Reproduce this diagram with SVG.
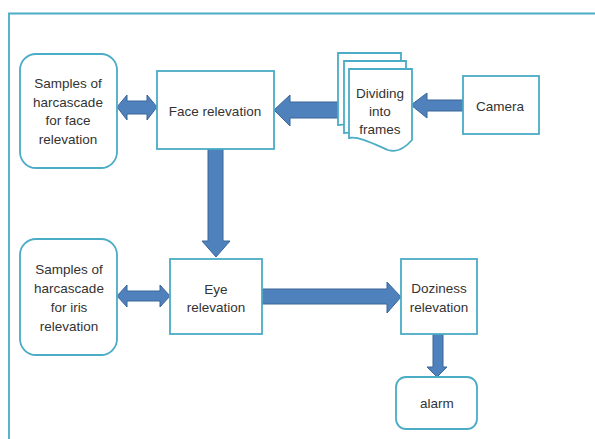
<svg xmlns="http://www.w3.org/2000/svg" width="595" height="439" viewBox="0 0 595 439">
<style>
.box{fill:#fff;stroke:#4BACC6;stroke-width:1.8}
.arr{fill:#4F81BD;stroke:#3A6596;stroke-width:1}
text{font-family:"Liberation Sans",Arial,sans-serif;font-size:13.5px;fill:#333;text-anchor:middle;dominant-baseline:central}
</style>
<rect width="595" height="439" fill="#fff"/>
<path d="M9,439 V13.5 H595" fill="none" stroke="#4BACC6" stroke-width="1.8"/>
<g id="connectors">
<path class="arr" d="M117,107 L127,95 V101 H147 V95 L157,107 L147,120 V114 H127 V120 Z"/>
<path class="arr" d="M274,110 L290,95 V102 H338 V118 H290 V126 Z"/>
<path class="arr" d="M411,105 L427,93 V100 H463 V111 H427 V118 Z"/>
<path class="arr" d="M208,149 H223 V241 H230 L216,257 L202,241 H208 Z"/>
<path class="arr" d="M117,296 L127,285 V291 H160 V285 L170,296 L160,307 V301 H127 V307 Z"/>
<path class="arr" d="M262,289 H387 V282 L401,297 L387,313 V304 H262 Z"/>
<path class="arr" d="M433,334 H443 V367 H447 L437,377 L427,367 H433 Z"/>
</g>
<g id="samples-face">
<rect class="box" x="20" y="54" width="97" height="114" rx="16"/>
<text x="68" y="83">Samples of</text>
<text x="68" y="102">harcascade</text>
<text x="68" y="120">for face</text>
<text x="68" y="139">relevation</text>
</g>
<g id="face">
<rect class="box" x="157" y="71" width="117" height="78"/>
<text x="215" y="111">Face relevation</text>
</g>
<g id="dividing">
<path class="box" d="M338,53 H401 V126 C396,128 392,128 388,127 C370,122 350,124 338,125 Z"/>
<path class="box" d="M344,61 H406 V134 C401,136 397,136 393,135 C375,130 356,132 344,133 Z"/>
<path class="box" d="M349,69 H412 V140 C405,148 397,153 388,150 C372,143 358,136 349,138 Z"/>
<text x="380" y="93">Dividing</text>
<text x="380" y="111">into</text>
<text x="380" y="129">frames</text>
</g>
<g id="camera">
<rect class="box" x="463" y="76" width="76" height="58"/>
<text x="500" y="106">Camera</text>
</g>
<g id="samples-iris">
<rect class="box" x="20" y="239" width="97" height="116" rx="16"/>
<text x="69" y="269">Samples of</text>
<text x="69" y="288">harcascade</text>
<text x="69" y="307">for iris</text>
<text x="69" y="326">relevation</text>
</g>
<g id="eye">
<rect class="box" x="170" y="259" width="92" height="75"/>
<text x="216" y="289">Eye</text>
<text x="216" y="307">relevation</text>
</g>
<g id="doziness">
<rect class="box" x="401" y="259" width="76" height="75"/>
<text x="439" y="288">Doziness</text>
<text x="439" y="307">relevation</text>
</g>
<g id="alarm">
<rect class="box" x="396" y="377" width="81" height="52" rx="10"/>
<text x="437" y="403">alarm</text>
</g>
</svg>
